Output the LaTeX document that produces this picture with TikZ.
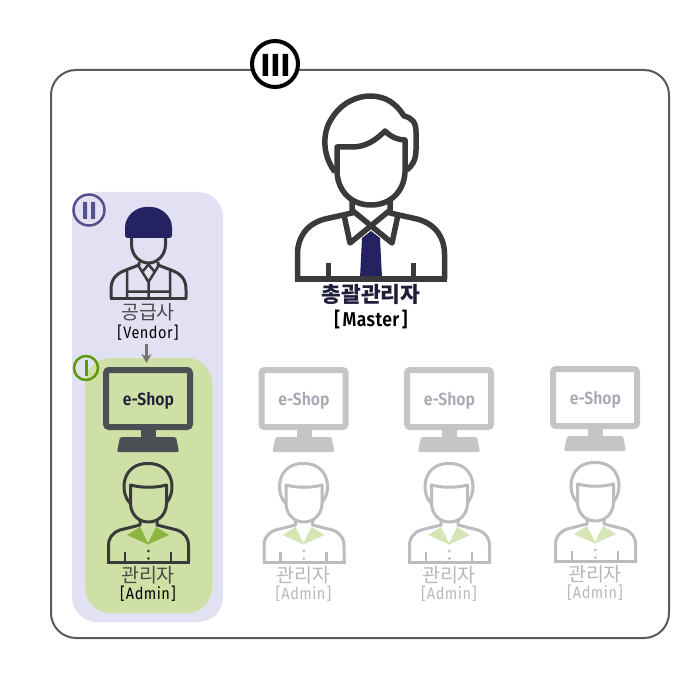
\documentclass[tikz,border=0pt]{standalone}
\usepackage{fontspec}
\setmainfont{Fira Sans}
\newfontfamily\krfont{Noto Sans CJK KR}
\newfontfamily\latfont[FakeStretch=0.88,LetterSpace=3]{Fira Sans}
\newfontfamily\latbold[FakeStretch=0.88,LetterSpace=2]{Fira Sans SemiBold}
\newfontfamily\shopfont[FakeStretch=0.9]{Fira Sans SemiBold}
\usetikzlibrary{arrows.meta}
\definecolor{frameC}{HTML}{5A5A5A}
\definecolor{lavC}{HTML}{E2E1F3}
\definecolor{grnC}{HTML}{CFE0A6}
\definecolor{romanII}{HTML}{56508F}
\definecolor{romanI}{HTML}{5C9A0A}
\definecolor{darkL}{HTML}{3A3A3C}
\definecolor{navyC}{HTML}{252262}
\definecolor{monC}{HTML}{4C4F54}
\definecolor{collarC}{HTML}{8DB542}
\definecolor{labC}{HTML}{4A4A4A}
\definecolor{monG}{HTML}{C4C5C7}
\definecolor{perG}{HTML}{BCBCBC}
\definecolor{colG}{HTML}{D5E5B5}
\definecolor{txtG}{HTML}{B8B8B8}
\definecolor{shopG}{HTML}{A9A6B5}
\definecolor{shopD}{HTML}{1E1E3A}
\tikzset{
  panel/.style={rounded corners=25pt,inner sep=0pt,outer sep=0pt},
  krlabel/.style={inner sep=0pt,font=\krfont\fontsize{19.5}{19.5}\selectfont},
  enlabel/.style={inner sep=0pt,font=\latfont\fontsize{16.5}{16.5}\selectfont},
  shoptext/.style={inner sep=0pt,font=\shopfont\fontsize{17.5}{17.5}\selectfont},
  stroke/.style={line cap=butt,line join=round}
}
% #1 dx #2 dy #3 monitor colour #4 shop text colour #5 person colour #6 collar colour #7 korean text colour #8 id #9 bracket text colour
\newcommand{\shopset}[9]{%
\begin{scope}[shift={(#1,#2)}]
  \draw[#3,line width=6pt,rounded corners=3pt] (106,370) rectangle (190,427);
  \fill[#3] (141,430) rectangle (156,438);
  \fill[#3,rounded corners=1.5pt] (120,437) -- (176,437) -- (179,452) -- (117,452) -- cycle;
  \node[shoptext,text=#4] (shop#8) at (148.5,400.5) {e-Shop};
  \fill[#6] (127,535) -- (140,527) -- (148,543) -- (156,527) -- (169,535) -- (148,544.5) -- cycle;
  \draw[#5,line width=3pt,stroke]
    (130,503) .. controls (119,492) and (122,463) .. (148,463.5)
    .. controls (174,463) and (177,492) .. (166,503);
  \draw[#5,line width=3pt,stroke]
    (130.5,485) .. controls (142,488) and (155,488) .. (166.5,485)
    -- (166.5,504) .. controls (166,515) and (158,522) .. (148.5,522)
    .. controls (139,522) and (131,515) .. (130.5,504) -- cycle;
  \draw[#5,line width=3pt,stroke]
    (140,519) -- (140,525) -- (120,530) .. controls (112,533) and (108.5,538) .. (108.5,546) -- (108.5,562);
  \draw[#5,line width=3pt,stroke]
    (157,519) -- (157,525) -- (177,530) .. controls (185,533) and (188.5,538) .. (188.5,546) -- (188.5,562);
  \draw[#5,line width=3pt] (107,562) -- (190,562);
  \draw[#5,line width=2.5pt] (125,552) -- (125,562) (171,552) -- (171,562);
  \fill[#5] (148.3,551) circle (1.5pt) (148.3,558.5) circle (1.5pt);
  \node[krlabel,text=#7] (kr#8) at (148,575) {관리자};
  \node[enlabel,text=#9] (en#8) at (148,594) {[\kern1.2pt Admin\kern1.2pt]};
\end{scope}}
\begin{document}
\begin{tikzpicture}[x=1pt,y=-1pt]
\useasboundingbox (0,0) rectangle (700,700);
\fill[white] (0,0) rectangle (700,700);
\draw[frameC,line width=2pt,rounded corners=25pt] (51,70) rectangle (669,638);
% panels
\fill[lavC,panel] (72,192) rectangle (223,622);
\fill[grnC,panel] (85,358) rectangle (212,613);
% badge III
\node[circle,draw=black,fill=white,line width=4pt,minimum size=46pt,inner sep=0pt] (b3) at (275,64) {};
\fill[black] (262.5,54) rectangle (268,76) (272.5,54) rectangle (278,76) (282.5,54) rectangle (288,76);
% badge II
\node[circle,draw=romanII,line width=2.5pt,minimum size=31pt,inner sep=0pt] (b2) at (89,210) {};
\fill[romanII] (83,202) rectangle (87,219) (91,202) rectangle (95,219);
% badge I
\node[circle,draw=romanI,line width=2.5pt,minimum size=24pt,inner sep=0pt] (b1) at (86,368) {};
\fill[romanI] (84.5,360) rectangle (87.5,376);
% master
\fill[navyC] (362,238) -- (371,231) -- (380,238) -- (382,278) -- (360,278) -- cycle;
\draw[darkL,line width=5.5pt,stroke]
  (335,172) .. controls (322,155) and (322,132) .. (332,118)
  .. controls (342,102) and (358,96) .. (370,96)
  .. controls (385,96) and (396,103) .. (404,116)
  .. controls (412,118) and (416,122) .. (416,132)
  -- (416,150) .. controls (416,160) and (412,166) .. (407,170);
\draw[darkL,line width=5.5pt,stroke]
  (337,147) -- (352,147) .. controls (366,147) and (376,140) .. (385,131)
  .. controls (391,137) and (398,140) .. (405,140)
  -- (405,172) .. controls (404,192) and (390,205) .. (371,205)
  .. controls (352,205) and (338,192) .. (337,172) -- cycle;
\draw[darkL,line width=5.5pt,stroke]
  (352,201) -- (352,213) -- (325,219) .. controls (306,224) and (297.5,238) .. (297.5,254) -- (297.5,279);
\draw[darkL,line width=5.5pt,stroke]
  (390,201) -- (390,213) -- (417,219) .. controls (436,224) and (444.5,238) .. (444.5,254) -- (444.5,279);
\draw[darkL,line width=5.5pt,stroke]
  (353,211) -- (392,243) -- (398,215);
\draw[darkL,line width=5.5pt,stroke]
  (389,211) -- (350,243) -- (344,215);
\draw[darkL,line width=5.5pt] (295,279) -- (447,279);
\draw[darkL,line width=5pt] (328,263) -- (328,279) (413.5,263) -- (413.5,279);
\node[inner sep=0pt,text=shopD,font=\krfont\bfseries\fontsize{21.5}{21.5}\selectfont] (masterkr) at (371,294) {총괄관리자};
\node[inner sep=0pt,text=black,font=\latbold\fontsize{20}{20}\selectfont] (masteren) at (371,319) {[\kern2.5pt Master\kern2.5pt]};
% vendor
\draw[darkL,line width=3pt,stroke]
  (131.5,234) -- (131.5,245) .. controls (132,256) and (140,263) .. (148.5,263)
  .. controls (157,263) and (165,256) .. (165.5,245) -- (165.5,234);
\fill[navyC,rounded corners=2.5pt] (125,238) -- (125,230) .. controls (125,216) and (136,207) .. (148.5,207)
  .. controls (161,207) and (172,216) .. (172,230) -- (172,238) -- cycle;
\draw[darkL,line width=3pt,stroke]
  (139,262) -- (139,265) -- (126,270) .. controls (115,274) and (111,280) .. (111,290) -- (111,298);
\draw[darkL,line width=3pt,stroke]
  (158,262) -- (158,265) -- (171,270) .. controls (182,274) and (186,280) .. (186,290) -- (186,298);
\draw[darkL,line width=2.5pt,stroke]
  (138,265) -- (148.5,282) -- (159,265)
  (143,271) -- (148.5,264.5) -- (154,271)
  (127,271) -- (127,297) (170,271) -- (170,297)
  (127,291.5) -- (170,291.5) (148.5,282) -- (148.5,297);
\draw[darkL,line width=3pt] (110,298) -- (187,298);
\node[krlabel,text=labC] (vendorkr) at (148,312) {공급사};
\node[enlabel,text=black] (vendoren) at (148,333) {[\kern1.2pt Vendor\kern1.2pt]};
\coordinate (arrowstart) at (146.5,344);
\coordinate (arrowend) at (146.5,363);
\draw[-{Stealth[length=9pt,width=10pt]},line width=2.5pt,color=black!55] (arrowstart) -- (arrowend);
% shop sets
\shopset{0}{0}{monC}{shopD}{darkL}{collarC}{labC}{a}{black}
\shopset{155.5}{0}{monG}{shopG}{perG}{colG}{txtG}{b}{txtG}
\shopset{301}{0}{monG}{shopG}{perG}{colG}{txtG}{c}{txtG}
\shopset{447}{-1}{monG}{shopG}{perG}{colG}{txtG}{d}{txtG}
\end{tikzpicture}
\end{document}
